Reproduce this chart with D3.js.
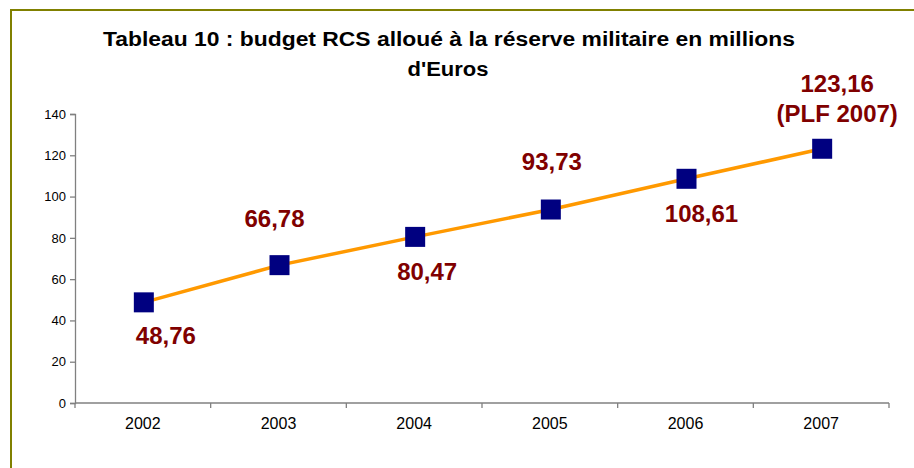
<!DOCTYPE html>
<html><head><meta charset="utf-8">
<script src="https://cdn.jsdelivr.net/npm/d3@7"></script>
<style>body{margin:0;background:#fff}svg{display:block}</style>
</head><body>
<svg id="c" width="914" height="468"></svg>
<script>
const years = ["2002","2003","2004","2005","2006","2007"];
const budget = [48.76, 66.78, 80.47, 93.73, 108.61, 123.16];
const valueLabels = [["48,76"],["66,78"],["80,47"],["93,73"],["108,61"],["123,16","(PLF 2007)"]];
const yTicks = [0,20,40,60,80,100,120,140];
const titleLines = ["Tableau 10 : budget RCS alloué à la réserve militaire en millions","d'Euros"];
// label layout (offsets from marker, px)
const labelOffsets = [[22,42],[-5,-38],[12,43],[1,-40],[15,43],[15,-57]];

const svg = d3.select("#c");
svg.append("rect").attr("x",11).attr("y",10).attr("width",920).attr("height",470)
  .attr("fill","#fff").attr("stroke","#808000").attr("stroke-width",2);

const x = d3.scaleBand().domain(years).range([75,889]);
const y = d3.scaleLinear().domain([0,140]).range([403,114]);

const font = "'Liberation Sans', Arial, sans-serif";
svg.append("g").selectAll("text").data(titleLines).join("text")
  .attr("x",(d,i)=> i===0?449:448).attr("y",(d,i)=>46+i*30)
  .attr("text-anchor","middle").attr("font-family",font).attr("font-weight","bold")
  .attr("font-size",19.5).attr("fill","#000")
  .attr("textLength",(d,i)=> i===0?692:81).attr("lengthAdjust","spacingAndGlyphs")
  .text(d=>d);

const yAxis = svg.append("g").attr("transform","translate(75,0)")
  .call(d3.axisLeft(y).tickValues(yTicks).tickSize(5).tickPadding(4).tickFormat(d3.format("d")));
const xAxis = svg.append("g").attr("transform","translate(0,403)")
  .call(d3.axisBottom(x).tickSize(5).tickPadding(10));
xAxis.selectAll(".tick line").attr("transform",`translate(${-x.bandwidth()/2},0)`);
xAxis.append("line").attr("x1",889).attr("x2",889).attr("y1",0).attr("y2",5);
[yAxis,xAxis].forEach(g=>{
  g.selectAll("path,line").attr("stroke","#808080").attr("stroke-width",1.3);
  g.selectAll("text").attr("font-family",font).attr("fill","#000");
});
yAxis.selectAll("text").attr("font-size",13);
xAxis.selectAll("text").attr("font-size",16);
xAxis.select(".domain").attr("d","M75,0H889");

const cx = d => x(d)+x.bandwidth()/2 + 1;
const line = d3.line().x((d,i)=>cx(years[i])).y(d=>y(d));
svg.append("path").datum(budget).attr("d",line).attr("fill","none")
  .attr("stroke","#FF9900").attr("stroke-width",3.5);

svg.append("g").selectAll("rect").data(budget).join("rect")
  .attr("x",(d,i)=>cx(years[i])-10).attr("y",d=>y(d)-10)
  .attr("width",20).attr("height",20).attr("fill","#000080");

const lbl = svg.append("g").selectAll("text").data(budget).join("text")
  .attr("text-anchor","middle").attr("font-family",font).attr("font-weight","bold")
  .attr("font-size",24).attr("fill","#800000")
  .attr("transform",(d,i)=>`translate(${cx(years[i])+labelOffsets[i][0]},${y(d)+labelOffsets[i][1]})`);
lbl.selectAll("tspan").data((d,i)=>valueLabels[i]).join("tspan")
  .attr("x",0).attr("dy",(t,j)=> j===0?0:30).text(t=>t);
</script>
</body></html>
